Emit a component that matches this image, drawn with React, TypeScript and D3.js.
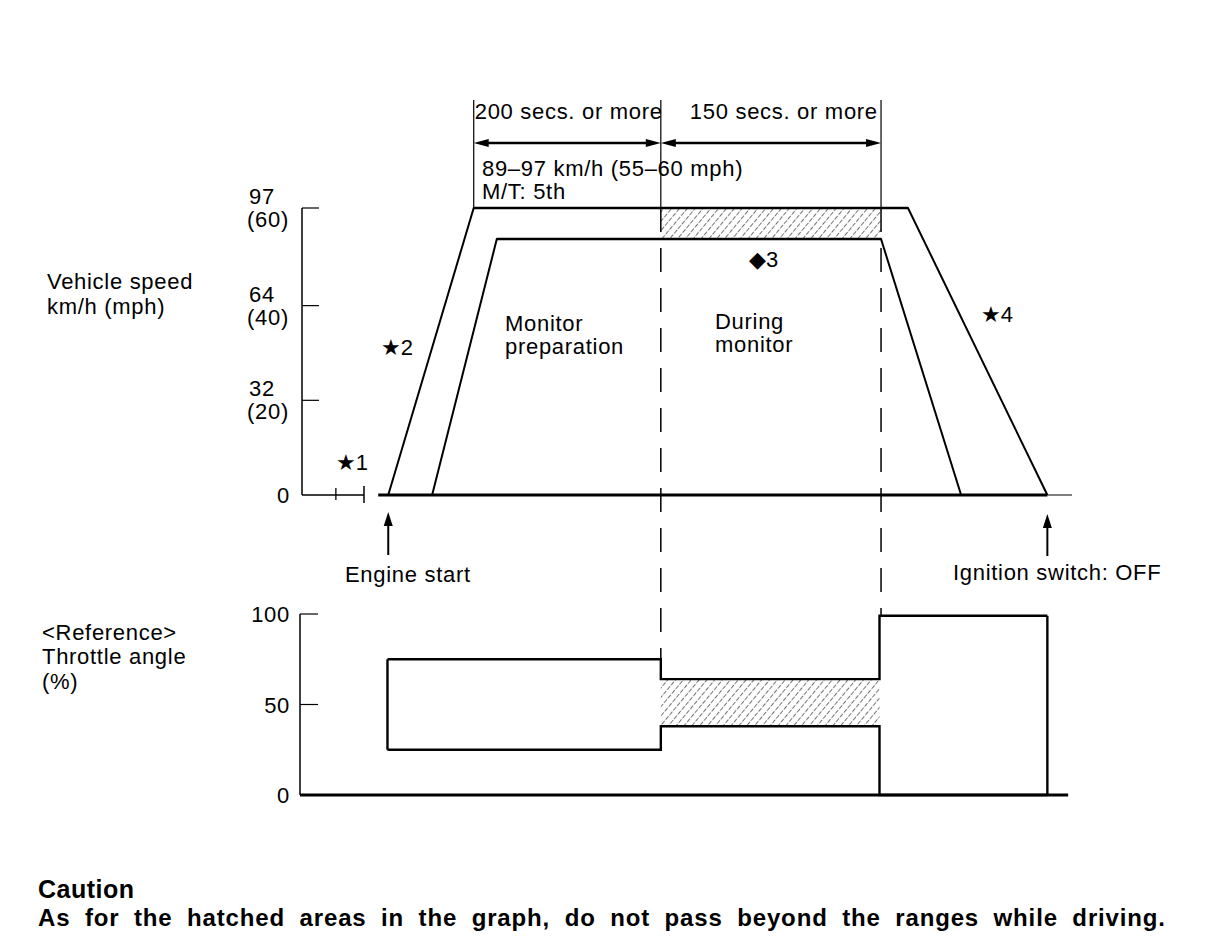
import * as d3 from "d3"

// time axis is an arbitrary 0-100 drive timeline
const eventTimes = { engineStart: 11.2, monitorStart: 46.6, monitorEnd: 75.2, ignitionOff: 96.8 }
const outerSpeed = [
  { t: 11.2, v: 0 },
  { t: 22.3, v: 97 },
  { t: 78.7, v: 97 },
  { t: 96.8, v: 0 },
]
const innerSpeed = [
  { t: 16.9, v: 0 },
  { t: 25.3, v: 86.5 },
  { t: 75.2, v: 86.5 },
  { t: 85.6, v: 0 },
]
const speedTicks = [0, 32, 64, 97]
const speedTickMph = ["", "(20)", "(40)", "(60)"]
const throttleTicks = [0, 50, 100]
const throttleEdges = [11.1, 46.6, 75.0, 96.8]
const throttleUpper = [75, 64, 99]
const throttleLower = [25, 38, 0]
const phaseLabels = ["200 secs. or more", "150 secs. or more"]
const phaseEdges = [22.3, 46.6, 75.2]

const FONT = "'Liberation Sans', Arial, 'DejaVu Sans', sans-serif"

export default function App() {
  const width = 1216
  const height = 950

  const x = d3.scaleLinear().domain([0, 100]).range([302, 1072])
  const ySpeed = d3.scaleLinear().domain([0, 97]).range([495, 208])
  const yThr = d3.scaleLinear().domain([0, 100]).range([795, 614])

  const line = d3
    .line<{ t: number; v: number }>()
    .x((d) => x(d.t))
    .y((d) => ySpeed(d.v))

  const hatchTop = ySpeed(97)
  const hatchBot = ySpeed(innerSpeed[1].v)

  // throttle envelope as step lines
  const stepPath = (vals: number[]) => {
    const pts: [number, number][] = []
    vals.forEach((v, i) => {
      pts.push([x(throttleEdges[i]), yThr(v)])
      pts.push([x(throttleEdges[i + 1]), yThr(v)])
    })
    return d3.line()(pts) as string
  }

  const arrowY = 143
  const arrowHead = (xTip: number, dir: number) => {
    const p = d3.path()
    p.moveTo(xTip, arrowY)
    p.lineTo(xTip - dir * 15, arrowY - 4)
    p.lineTo(xTip - dir * 15, arrowY + 4)
    p.closePath()
    return p.toString()
  }
  const upArrow = (xc: number, yTip: number) => {
    const p = d3.path()
    p.moveTo(xc, yTip)
    p.lineTo(xc - 4.5, yTip + 14)
    p.lineTo(xc + 4.5, yTip + 14)
    p.closePath()
    return p.toString()
  }

  const txt = { fontFamily: FONT, fontSize: 22, letterSpacing: 0.7, fill: "#000" }
  const mark = { fontFamily: FONT, fontSize: 22, fill: "#000" }

  return (
    <svg
      width={width}
      height={height}
      style={{ position: "absolute", left: 0, top: 0, background: "#fff" }}
    >
      <defs>
        <pattern id="hatch" width="6" height="6" patternUnits="userSpaceOnUse" patternTransform="rotate(40)">
          <line x1="0" y1="0" x2="0" y2="6" stroke="#000" strokeWidth="1.1" strokeDasharray="3.5 1.5" />
        </pattern>
      </defs>
      <rect width={width} height={height} fill="#fff" />

      {/* phase brackets */}
      {phaseEdges.map((t, i) => (
        <line key={"pe" + i} x1={x(t)} x2={x(t)} y1={100} y2={hatchTop} stroke="#000" strokeWidth={1.2} />
      ))}
      {phaseLabels.map((lab, i) => {
        const x0 = x(phaseEdges[i])
        const x1 = x(phaseEdges[i + 1])
        return (
          <g key={"ph" + i}>
            <line x1={x0 + 8} x2={x1 - 8} y1={arrowY} y2={arrowY} stroke="#000" strokeWidth={2.5} />
            <path d={arrowHead(x0, -1)} fill="#000" />
            <path d={arrowHead(x1, 1)} fill="#000" />
            <text x={i === 0 ? x0 + 1 : x0 + 29} y={119} {...txt}>
              {lab}
            </text>
          </g>
        )
      })}
      <text x={482} y={176} {...txt}>89–97 km/h (55–60 mph)</text>
      <text x={482} y={199} {...txt}>M/T: 5th</text>

      {/* hatched area (speed) */}
      <rect
        x={x(eventTimes.monitorStart)}
        y={hatchTop}
        width={x(eventTimes.monitorEnd) - x(eventTimes.monitorStart)}
        height={hatchBot - hatchTop}
        fill="url(#hatch)"
      />

      {/* monitor dashed guides */}
      {[eventTimes.monitorStart, eventTimes.monitorEnd].map((t, i) => (
        <line
          key={"dg" + i}
          x1={x(t)}
          x2={x(t)}
          y1={hatchTop}
          y2={i === 0 ? yThr(throttleUpper[0]) : yThr(throttleUpper[2])}
          stroke="#000"
          strokeWidth={1.5}
          strokeDasharray="24 16"
        />
      ))}

      {/* speed axis */}
      <line x1={x(0)} x2={x(0)} y1={ySpeed(97)} y2={ySpeed(0)} stroke="#000" strokeWidth={1.5} />
      {speedTicks.map((v, i) => (
        <g key={"st" + i}>
          {v > 0 && <line x1={x(0)} x2={x(0) + 17} y1={ySpeed(v)} y2={ySpeed(v)} stroke="#000" strokeWidth={1.2} />}
          {v > 0 ? (
            <>
              <text x={249} y={ySpeed(v) - 4} {...txt}>{v}</text>
              <text x={247} y={ySpeed(v) + 19} {...txt}>{speedTickMph[i]}</text>
            </>
          ) : (
            <text x={290} y={ySpeed(v) + 8} textAnchor="end" {...txt}>{v}</text>
          )}
        </g>
      ))}
      <text x={47} y={289} {...txt}>Vehicle speed</text>
      <text x={47} y={314} {...txt}>km/h (mph)</text>

      {/* idle period before start */}
      <line x1={x(0)} x2={x(8.05)} y1={ySpeed(0)} y2={ySpeed(0)} stroke="#000" strokeWidth={1.5} />
      <line x1={x(4.4)} x2={x(4.4)} y1={ySpeed(0) - 7} y2={ySpeed(0) + 5} stroke="#000" strokeWidth={1.3} />
      <line x1={x(8.05)} x2={x(8.05)} y1={ySpeed(0) - 9} y2={ySpeed(0) + 8} stroke="#000" strokeWidth={1.5} />
      <text x={336} y={470} {...mark}>★1</text>

      {/* speed baseline */}
      <line x1={x(9.9)} x2={x(eventTimes.ignitionOff)} y1={ySpeed(0)} y2={ySpeed(0)} stroke="#000" strokeWidth={3} />
      <line x1={x(eventTimes.ignitionOff)} x2={x(100)} y1={ySpeed(0)} y2={ySpeed(0)} stroke="#000" strokeWidth={1} />

      {/* speed profiles */}
      <path d={line(outerSpeed) as string} fill="none" stroke="#000" strokeWidth={2} />
      <path d={line(innerSpeed) as string} fill="none" stroke="#000" strokeWidth={2} />
      <line x1={x(outerSpeed[1].t)} x2={x(outerSpeed[2].t)} y1={hatchTop} y2={hatchTop} stroke="#000" strokeWidth={2.6} />
      <line x1={x(innerSpeed[1].t)} x2={x(innerSpeed[2].t)} y1={hatchBot} y2={hatchBot} stroke="#000" strokeWidth={2.6} />

      <text x={381} y={355} {...mark}>★2</text>
      <text x={749} y={267} {...mark}>◆3</text>
      <text x={981} y={322} {...mark}>★4</text>
      <text x={505} y={331} {...txt}>Monitor</text>
      <text x={505} y={354} {...txt}>preparation</text>
      <text x={715} y={329} {...txt}>During</text>
      <text x={715} y={352} {...txt}>monitor</text>

      {/* event arrows */}
      <line x1={x(eventTimes.engineStart)} x2={x(eventTimes.engineStart)} y1={520} y2={555} stroke="#000" strokeWidth={2} />
      <path d={upArrow(x(eventTimes.engineStart), 512)} fill="#000" />
      <text x={345} y={582} {...txt}>Engine start</text>
      <line x1={x(eventTimes.ignitionOff)} x2={x(eventTimes.ignitionOff)} y1={522} y2={556} stroke="#000" strokeWidth={2} />
      <path d={upArrow(x(eventTimes.ignitionOff), 514)} fill="#000" />
      <text x={953} y={580} {...txt}>Ignition switch: OFF</text>

      {/* throttle chart */}
      <text x={42} y={640} {...txt}>&lt;Reference&gt;</text>
      <text x={42} y={664} {...txt}>Throttle angle</text>
      <text x={42} y={689} {...txt}>(%)</text>
      <line x1={x(0) - 2} x2={x(0) - 2} y1={yThr(100)} y2={yThr(0)} stroke="#000" strokeWidth={1.5} />
      {throttleTicks.map((v) => (
        <g key={"tt" + v}>
          {v > 0 && <line x1={x(0) - 2} x2={x(0) + 16} y1={yThr(v)} y2={yThr(v)} stroke="#000" strokeWidth={1.2} />}
          <text x={x(0) - 12} y={yThr(v) + 8} textAnchor="end" {...txt}>{v}</text>
        </g>
      ))}
      <rect
        x={x(throttleEdges[1])}
        y={yThr(throttleUpper[1])}
        width={x(throttleEdges[2]) - x(throttleEdges[1])}
        height={yThr(throttleLower[1]) - yThr(throttleUpper[1])}
        fill="url(#hatch)"
      />
      <path d={stepPath(throttleUpper)} fill="none" stroke="#000" strokeWidth={2.4} />
      <path d={stepPath(throttleLower)} fill="none" stroke="#000" strokeWidth={2.4} />
      {/* closing edges of the envelope */}
      <line x1={x(throttleEdges[0])} x2={x(throttleEdges[0])} y1={yThr(throttleUpper[0])} y2={yThr(throttleLower[0])} stroke="#000" strokeWidth={2.4} />
      <line x1={x(throttleEdges[3])} x2={x(throttleEdges[3])} y1={yThr(throttleUpper[2])} y2={yThr(throttleLower[2])} stroke="#000" strokeWidth={2.4} />
      <line x1={x(0) - 2} x2={x(99.5)} y1={yThr(0)} y2={yThr(0)} stroke="#000" strokeWidth={3} />

      {/* caution */}
      <text x={38} y={898} fontFamily={FONT} fontSize={25} fontWeight="bold" letterSpacing={0.5}>Caution</text>
      <text
        x={38}
        y={926}
        fontFamily={FONT}
        fontSize={24}
        fontWeight="bold"
        wordSpacing={7}
        textLength={1127}
        lengthAdjust="spacing"
      >
        As for the hatched areas in the graph, do not pass beyond the ranges while driving.
      </text>
    </svg>
  )
}
